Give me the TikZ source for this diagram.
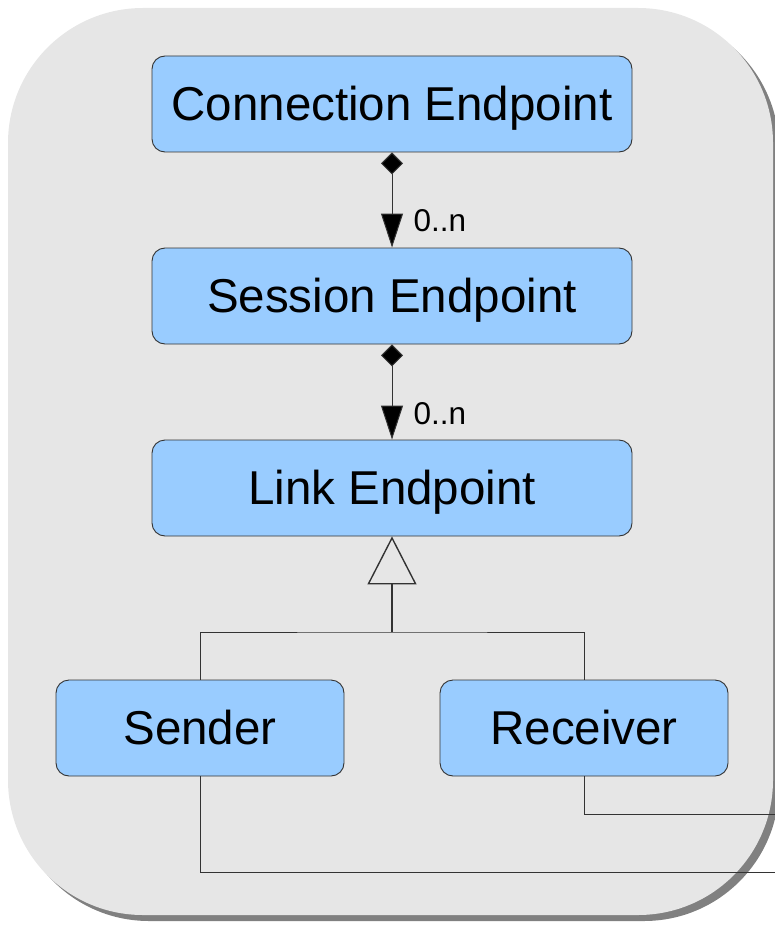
\documentclass[tikz,border=0pt]{standalone}
\usepackage{fontspec}
\setmainfont{Liberation Sans}
\usetikzlibrary{arrows.meta}
\definecolor{bgfill}{HTML}{E6E6E6}
\definecolor{shadowc}{HTML}{808080}
\definecolor{boxfill}{HTML}{99CCFF}
\definecolor{boxline}{HTML}{333333}
\definecolor{linec}{HTML}{333333}
\begin{document}
\begin{tikzpicture}[x=1pt,y=-1pt,
  umlbox/.style={draw=boxline, line width=0.9pt, fill=boxfill, rounded corners=13pt,
    minimum height=96pt, inner sep=0pt, text height=33.5pt, text depth=0pt,
    font=\fontsize{47.5}{56}\selectfont},
  widebox/.style={umlbox, minimum width=480pt},
  smallbox/.style={umlbox, minimum width=288pt},
  conn/.style={draw=linec, line width=1pt},
  comp/.style={conn, {Diamond[width=22pt,length=22pt,fill=black]}-{Triangle[width=22pt,length=34pt,fill=black]}},
  mult/.style={font=\fontsize{31.5}{38}\selectfont, anchor=west, inner sep=0pt, text height=22pt, text depth=0pt}
]
\useasboundingbox (0,0) rectangle (775,925);
% background panel with shadow
\fill[shadowc] (14,14) [rounded corners=135pt] -- (14,921) -- (779,921) -- (779,14) -- cycle;
\fill[bgfill] (8,8) [rounded corners=135pt] -- (8,915) -- (773,915) -- (773,8) -- cycle;

\node[widebox] (ce) at (392,104) {Connection Endpoint};
\node[widebox] (se) at (392,296) {Session Endpoint};
\node[widebox] (le) at (392,488) {Link Endpoint};
\node[smallbox] (snd) at (200,728) {Sender};
\node[smallbox] (rcv) at (584,728) {Receiver};

\draw[comp] (ce.south) -- (se.north);
\draw[comp] (se.south) -- (le.north);
\node[mult] (m1) at (413.5,221) {0..n};
\node[mult] (m2) at (413.5,413) {0..n};

\coordinate (j) at (392,632);
\draw[conn] (snd.north) |- (j) -| (rcv.north);
\draw[conn, line width=1.4pt, -{Triangle[open, width=49pt, length=48pt, fill=bgfill]}] (j) -- (le.south);

\coordinate (e1) at (775,872);
\coordinate (e2) at (775,814);
\draw[conn] (snd.south) |- (e1);
\draw[conn] (rcv.south) |- (e2);
\end{tikzpicture}
\end{document}
